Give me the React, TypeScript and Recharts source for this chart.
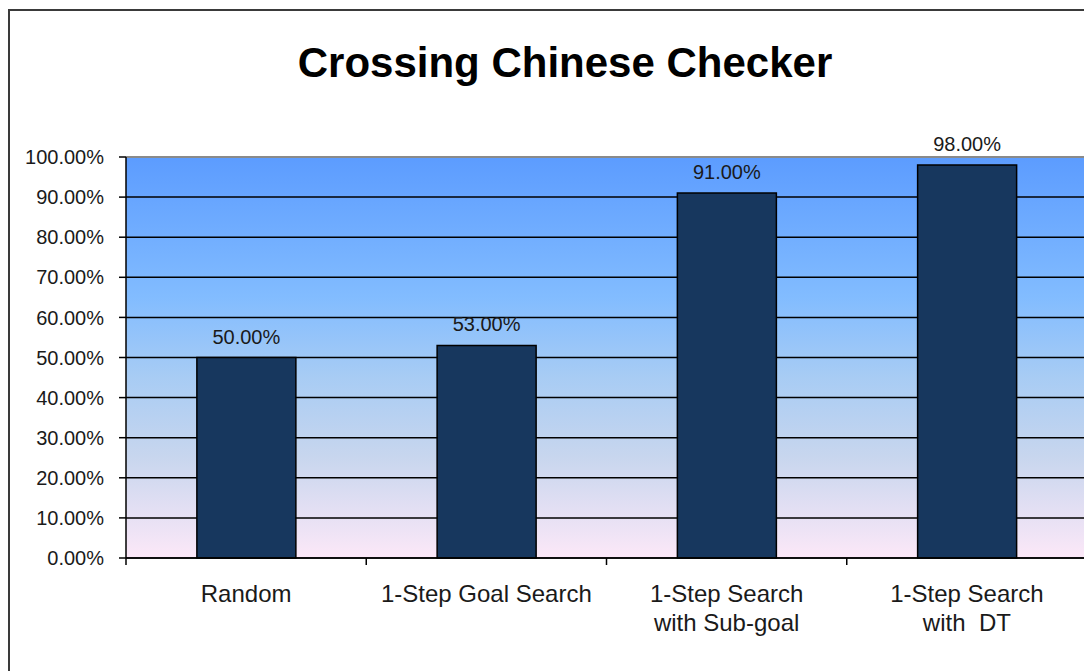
import {
  BarChart,
  Bar,
  XAxis,
  YAxis,
  CartesianGrid,
  LabelList,
  ReferenceLine,
} from "recharts"

const categories = [
  "Random",
  "1-Step Goal Search",
  "1-Step Search\nwith Sub-goal",
  "1-Step Search\nwith  DT",
]
const winRates = [0.5, 0.53, 0.91, 0.98]
const yTicks = [0, 0.1, 0.2, 0.3, 0.4, 0.5, 0.6, 0.7, 0.8, 0.9, 1]

const data = categories.map((name, i) => ({
  name,
  rate: winRates[i],
}))

const font = "'Liberation Sans', Arial, sans-serif"
const pct = (v: number) => `${(v * 100).toFixed(2)}%`

// category label + tick marks on the band edges (Excel style)
function CategoryTick(props: any) {
  const { x, y, payload, index, width } = props
  const lines = String(payload.value).split("\n")
  const half = (width ?? 0) / categories.length / 2
  const top = y - 8
  return (
    <g>
      {half > 0 && (
        <line x1={x - half} x2={x - half} y1={top} y2={top + 7} stroke="#000" strokeWidth={1.5} />
      )}
      {half > 0 && index === categories.length - 1 && (
        <line x1={x + half} x2={x + half} y1={top} y2={top + 7} stroke="#000" strokeWidth={1.5} />
      )}
      <text
        x={x}
        y={y}
        textAnchor="middle"
        fontFamily={font}
        fontSize={24}
        fill="#1a1a1a"
        style={{ whiteSpace: "pre" }}
      >
        {lines.map((l, i) => (
          <tspan key={i} x={x} dy={i === 0 ? 36 : 29}>
            {l}
          </tspan>
        ))}
      </text>
    </g>
  )
}

function App() {
  return (
    <div
      style={{
        position: "absolute",
        left: 0,
        top: 0,
        width: 1084,
        height: 671,
        overflow: "hidden",
        background: "#fff",
      }}
    >
      <div
        style={{
          position: "absolute",
          left: 8,
          top: 9,
          width: 1200,
          height: 800,
          border: "2px solid #3a3a3a",
        }}
      />
      <svg
        width={1084}
        height={671}
        style={{ position: "absolute", left: 0, top: 0 }}
      >
        <defs>
          <linearGradient id="bg" x1="0" y1="0" x2="0" y2="1">
            <stop offset="0%" stopColor="#5C9CFF" />
            <stop offset="35%" stopColor="#82BCFF" />
            <stop offset="55%" stopColor="#A8CCF4" />
            <stop offset="75%" stopColor="#C8D6EE" />
            <stop offset="100%" stopColor="#FCE8F8" />
          </linearGradient>
        </defs>
        <text
          x={565}
          y={77}
          textAnchor="middle"
          fontFamily={font}
          fontWeight="bold"
          fontSize={42}
          fill="#000"
        >
          Crossing Chinese Checker
        </text>
      </svg>
      <div style={{ position: "absolute", left: 0, top: 0 }}>
        <BarChart
          width={1090}
          height={671}
          data={data}
          margin={{ top: 157, right: 3, left: 0, bottom: 33 }}
          barCategoryGap="29.5%"
        >
          <CartesianGrid
            vertical={false}
            stroke="#000"
            strokeWidth={1.5}
            fill="url(#bg)"
            fillOpacity={1}
          />
          <XAxis
            dataKey="name"
            height={80}
            axisLine={{ stroke: "#000", strokeWidth: 1.5 }}
            tickLine={false}
            interval={0}
            tick={<CategoryTick />}
          />
          <YAxis
            width={126}
            domain={[0, 1]}
            ticks={yTicks}
            interval={0}
            tickFormatter={pct}
            tickSize={7}
            tickMargin={15}
            stroke="#000"
            strokeWidth={1.5}
            tick={{ fontFamily: font, fontSize: 20, fill: "#1a1a1a" }}
          />
          <ReferenceLine y={1} stroke="#8a8a8a" strokeWidth={2} />
          <Bar
            dataKey="rate"
            fill="#17375E"
            stroke="#000"
            strokeWidth={1.5}
            isAnimationActive={false}
          >
            <LabelList
              dataKey="rate"
              position="top"
              offset={14}
              formatter={(v: any) => pct(Number(v))}
              style={{ fontFamily: font, fontSize: 20, fill: "#1a1a1a" }}
            />
          </Bar>
        </BarChart>
      </div>
    </div>
  )
}

export default App
